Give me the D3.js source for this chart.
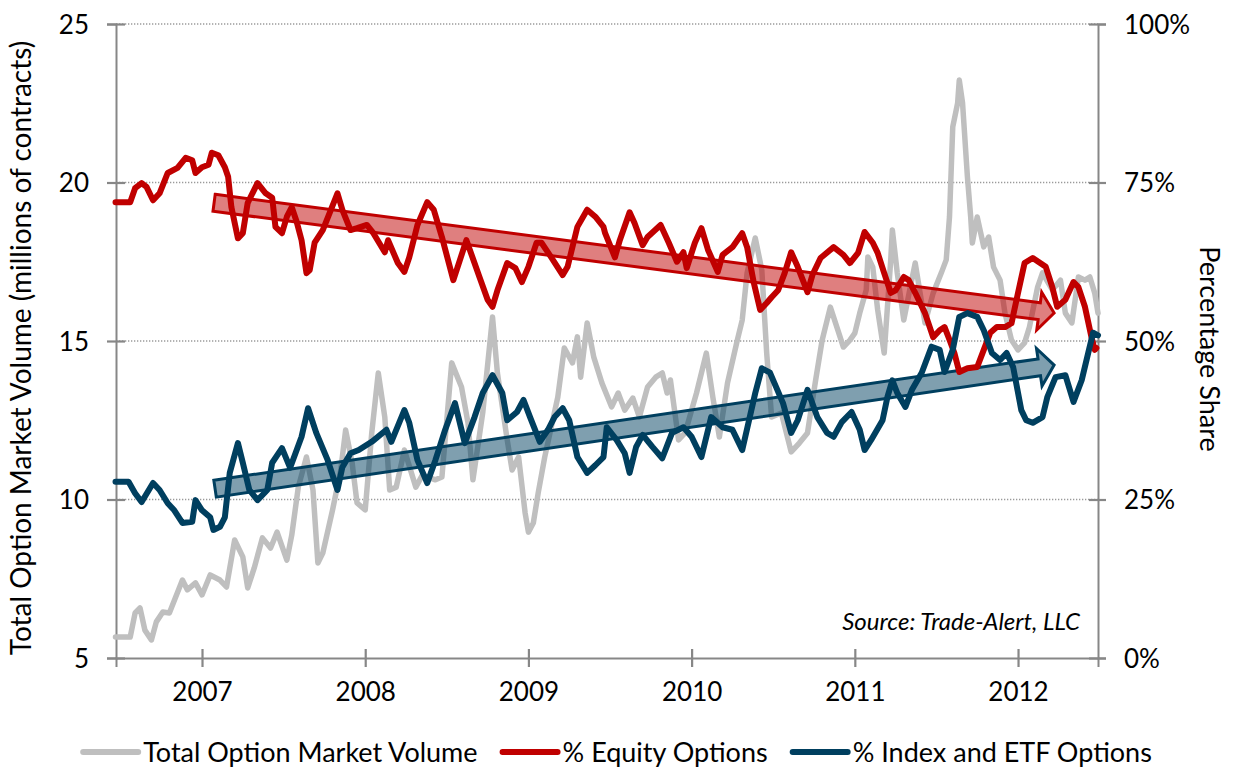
<!DOCTYPE html>
<html>
<head>
<meta charset="utf-8">
<script src="https://d3js.org/d3.v7.min.js"></script>
<style>
  body { margin: 0; background: #fff; }
  text { font-family: Lato, "Open Sans", sans-serif; fill: #000; }
</style>
</head>
<body>
<svg id="chart" width="1233" height="775"></svg>
<script>

// [decimal year, value]
const volume = [[2006.47,5.66],[2006.56,5.66],[2006.59,6.42],[2006.62,6.58],[2006.65,5.88],[2006.69,5.57],[2006.72,6.14],[2006.76,6.45],[2006.80,6.42],[2006.88,7.46],[2006.91,7.15],[2006.96,7.37],[2007.00,6.99],[2007.05,7.62],[2007.11,7.46],[2007.15,7.24],[2007.20,8.72],[2007.25,8.19],[2007.28,7.21],[2007.32,7.84],[2007.37,8.79],[2007.42,8.47],[2007.46,8.97],[2007.52,8.09],[2007.55,8.88],[2007.59,10.39],[2007.64,11.34],[2007.68,10.30],[2007.71,8.00],[2007.74,8.31],[2007.80,9.67],[2007.85,10.93],[2007.88,12.19],[2007.92,11.15],[2007.95,9.89],[2008.00,9.67],[2008.04,12.10],[2008.08,13.99],[2008.12,12.60],[2008.15,10.30],[2008.19,10.39],[2008.24,11.56],[2008.31,10.39],[2008.35,10.77],[2008.43,10.62],[2008.47,10.71],[2008.53,14.31],[2008.59,13.55],[2008.63,12.41],[2008.66,10.62],[2008.72,12.73],[2008.78,15.76],[2008.81,13.99],[2008.87,11.88],[2008.90,10.93],[2008.94,11.34],[2008.98,9.57],[2009.00,8.97],[2009.03,9.26],[2009.06,10.21],[2009.10,11.34],[2009.18,13.23],[2009.22,14.78],[2009.27,14.31],[2009.30,15.13],[2009.32,13.86],[2009.36,15.57],[2009.40,14.50],[2009.45,13.68],[2009.51,12.92],[2009.55,13.36],[2009.59,12.82],[2009.64,13.20],[2009.68,12.60],[2009.73,13.55],[2009.78,13.86],[2009.82,13.99],[2009.85,13.36],[2009.87,13.77],[2009.92,11.88],[2009.96,12.10],[2010.03,13.36],[2010.09,14.62],[2010.13,13.23],[2010.17,11.97],[2010.22,13.68],[2010.28,15.03],[2010.31,15.66],[2010.34,17.15],[2010.39,18.25],[2010.43,17.24],[2010.46,14.62],[2010.49,12.60],[2010.55,12.73],[2010.61,11.50],[2010.66,11.78],[2010.71,12.10],[2010.76,13.77],[2010.80,15.03],[2010.85,16.07],[2010.89,15.44],[2010.93,14.81],[2010.97,15.03],[2011.00,15.25],[2011.03,15.88],[2011.07,16.61],[2011.08,17.65],[2011.11,17.33],[2011.14,15.98],[2011.18,14.62],[2011.22,17.56],[2011.23,18.50],[2011.26,17.15],[2011.30,15.66],[2011.34,16.70],[2011.37,17.46],[2011.40,16.51],[2011.43,15.57],[2011.48,16.51],[2011.53,17.15],[2011.56,17.56],[2011.58,18.91],[2011.60,21.75],[2011.63,22.51],[2011.64,23.23],[2011.66,22.51],[2011.69,20.17],[2011.71,18.91],[2011.72,18.09],[2011.75,18.91],[2011.79,17.97],[2011.82,18.28],[2011.85,17.33],[2011.89,16.92],[2011.92,15.88],[2011.96,15.03],[2012.00,14.72],[2012.04,14.94],[2012.07,15.44],[2012.12,16.70],[2012.15,17.15],[2012.21,16.61],[2012.26,16.92],[2012.29,15.88],[2012.33,15.57],[2012.37,17.02],[2012.41,16.92],[2012.44,17.02],[2012.47,16.51],[2012.49,15.88]]

const equityPct = [[2006.47,71.9],[2006.56,71.9],[2006.59,74.1],[2006.63,74.9],[2006.66,74.3],[2006.70,72.2],[2006.74,73.3],[2006.79,76.5],[2006.85,77.3],[2006.90,78.9],[2006.94,78.5],[2006.96,76.5],[2007.00,77.4],[2007.04,77.8],[2007.06,79.7],[2007.10,79.3],[2007.14,77.4],[2007.16,75.9],[2007.18,71.1],[2007.22,66.2],[2007.25,67.0],[2007.28,71.8],[2007.34,74.9],[2007.39,73.3],[2007.43,72.6],[2007.45,68.0],[2007.49,67.0],[2007.52,69.6],[2007.55,71.1],[2007.58,68.8],[2007.61,65.9],[2007.64,60.7],[2007.66,61.2],[2007.69,65.5],[2007.74,67.5],[2007.83,73.3],[2007.86,70.7],[2007.91,67.5],[2007.95,67.8],[2008.01,68.3],[2008.05,67.0],[2008.12,64.0],[2008.14,65.9],[2008.20,62.3],[2008.24,60.9],[2008.27,63.2],[2008.32,68.3],[2008.38,71.9],[2008.42,70.7],[2008.47,66.4],[2008.54,59.6],[2008.62,65.9],[2008.70,60.1],[2008.75,56.5],[2008.78,55.4],[2008.81,58.0],[2008.87,62.3],[2008.92,61.5],[2008.96,59.3],[2009.00,61.7],[2009.05,65.5],[2009.08,65.5],[2009.14,63.2],[2009.21,60.4],[2009.24,61.7],[2009.30,68.0],[2009.36,70.7],[2009.41,69.6],[2009.46,68.0],[2009.47,67.0],[2009.53,63.2],[2009.56,65.9],[2009.62,70.3],[2009.65,68.6],[2009.70,65.1],[2009.73,66.4],[2009.81,68.3],[2009.86,65.5],[2009.91,62.5],[2009.95,64.0],[2009.97,61.5],[2010.02,65.5],[2010.06,67.8],[2010.10,64.4],[2010.16,60.9],[2010.19,63.6],[2010.25,64.8],[2010.31,67.0],[2010.34,64.8],[2010.38,59.3],[2010.42,54.9],[2010.46,56.0],[2010.49,56.9],[2010.53,58.0],[2010.57,60.7],[2010.61,64.0],[2010.65,61.7],[2010.71,57.7],[2010.74,60.4],[2010.79,63.1],[2010.87,64.8],[2010.93,63.6],[2010.97,62.3],[2011.02,63.9],[2011.06,67.2],[2011.11,65.5],[2011.14,63.9],[2011.18,60.7],[2011.22,57.6],[2011.25,58.0],[2011.30,60.1],[2011.33,59.6],[2011.37,57.6],[2011.43,54.4],[2011.48,50.6],[2011.52,51.7],[2011.55,52.2],[2011.58,50.2],[2011.61,48.1],[2011.64,45.1],[2011.69,45.7],[2011.75,45.9],[2011.79,48.6],[2011.83,51.3],[2011.87,52.2],[2011.92,52.2],[2011.96,52.8],[2012.00,57.6],[2012.04,62.3],[2012.09,63.1],[2012.17,61.7],[2012.21,58.5],[2012.24,55.4],[2012.29,56.5],[2012.34,59.3],[2012.37,58.5],[2012.41,55.4],[2012.45,50.6],[2012.47,48.6],[2012.48,48.9]]

const indexPct = [[2006.47,27.8],[2006.55,27.8],[2006.59,26.0],[2006.63,24.6],[2006.70,27.6],[2006.74,26.5],[2006.79,24.4],[2006.83,23.3],[2006.88,21.3],[2006.94,21.5],[2006.96,24.9],[2007.00,23.3],[2007.05,22.2],[2007.07,20.2],[2007.11,20.7],[2007.14,22.2],[2007.17,29.2],[2007.22,33.9],[2007.25,30.8],[2007.29,26.5],[2007.34,24.9],[2007.40,26.5],[2007.43,30.8],[2007.49,33.1],[2007.54,30.0],[2007.61,34.9],[2007.65,39.4],[2007.70,35.5],[2007.77,31.2],[2007.83,26.5],[2007.86,30.1],[2007.91,32.3],[2007.96,32.8],[2008.04,34.1],[2008.13,36.0],[2008.16,34.1],[2008.24,39.1],[2008.27,37.1],[2008.32,31.2],[2008.38,27.6],[2008.43,31.2],[2008.49,36.0],[2008.55,40.2],[2008.61,33.9],[2008.67,38.0],[2008.72,41.8],[2008.78,44.6],[2008.84,41.8],[2008.87,37.5],[2008.93,38.8],[2008.97,40.7],[2009.01,38.0],[2009.07,34.1],[2009.12,36.0],[2009.16,38.0],[2009.21,39.4],[2009.25,37.5],[2009.30,31.7],[2009.36,29.2],[2009.41,30.4],[2009.46,31.7],[2009.48,36.4],[2009.54,34.4],[2009.59,32.3],[2009.62,29.2],[2009.66,33.3],[2009.70,35.2],[2009.76,33.3],[2009.82,31.5],[2009.88,35.5],[2009.95,36.4],[2010.00,34.9],[2010.06,31.7],[2010.12,38.0],[2010.19,36.4],[2010.25,36.0],[2010.28,34.4],[2010.31,32.8],[2010.39,41.8],[2010.43,45.7],[2010.48,45.0],[2010.52,42.6],[2010.56,40.2],[2010.61,35.5],[2010.65,37.5],[2010.71,42.3],[2010.77,38.0],[2010.83,35.5],[2010.87,34.9],[2010.92,37.2],[2010.98,38.8],[2011.03,36.0],[2011.06,32.8],[2011.10,34.4],[2011.17,37.5],[2011.20,41.2],[2011.23,43.8],[2011.26,41.8],[2011.31,39.6],[2011.35,42.3],[2011.41,45.0],[2011.47,49.1],[2011.52,48.6],[2011.55,45.1],[2011.60,48.6],[2011.64,53.8],[2011.69,54.4],[2011.75,53.8],[2011.79,51.7],[2011.84,48.1],[2011.89,47.0],[2011.93,48.1],[2011.97,45.9],[2012.02,39.1],[2012.05,37.5],[2012.09,37.1],[2012.15,38.0],[2012.18,41.2],[2012.23,44.3],[2012.29,44.6],[2012.34,40.4],[2012.39,43.8],[2012.43,48.1],[2012.46,51.3],[2012.49,50.9]]

const yearTicks = [2007, 2008, 2009, 2010, 2011, 2012]
const volTicks = [5, 10, 15, 20, 25]
const pctTicks = [0, 25, 50, 75, 100]

// trend arrows: [year, percent] tail and tip
const equityArrow = [[2007.074, 71.8], [2012.221, 54.4]]
const indexArrow = [[2007.08, 26.7], [2012.221, 46.2]]

const seriesNames = ['Total Option Market Volume', '% Equity Options', '% Index and ETF Options']
const colors = ['#bfbfbf', '#c00000', '#003f5f']

const plotLeft = 116, plotRight = 1098, plotTop = 24, plotBottom = 658

const svg = d3.select('#chart')

const x = d3.scaleLinear().domain([2006.473, 2012.49]).range([plotLeft, plotRight])
const yVol = d3.scaleLinear().domain([5, 25]).range([plotBottom, plotTop])
const yPct = d3.scaleLinear().domain([0, 100]).range([plotBottom, plotTop])

const axisColor = '#878787'

// dotted grid
svg.append('g')
  .selectAll('line')
  .data(volTicks.slice(1))
  .join('line')
    .attr('x1', plotLeft).attr('x2', plotRight)
    .attr('y1', d => yVol(d)).attr('y2', d => yVol(d))
    .attr('stroke', '#9a9a9a')
    .attr('stroke-width', 1.3)
    .attr('stroke-dasharray', '1.3 1.7')

// axes
const leftAxis = svg.append('g')
  .attr('transform', `translate(${plotLeft},0)`)
  .call(d3.axisLeft(yVol).tickValues(volTicks).tickSize(9).tickPadding(18))
const rightAxis = svg.append('g')
  .attr('transform', `translate(${plotRight},0)`)
  .call(d3.axisRight(yPct).tickValues(pctTicks).tickSize(8).tickPadding(18).tickFormat(d => d + '%'))
const bottomAxis = svg.append('g')
  .attr('transform', `translate(0,${plotBottom})`)
  .call(d3.axisBottom(x).tickValues(yearTicks).tickSize(9).tickPadding(16).tickFormat(d3.format('d')))

;[leftAxis, rightAxis, bottomAxis].forEach(g => {
  g.select('.domain').attr('stroke', axisColor).attr('stroke-width', 2)
  g.selectAll('.tick line').attr('stroke', axisColor).attr('stroke-width', 2.2)
  g.selectAll('.tick text').attr('font-size', 26).attr('font-family', 'Lato, sans-serif').attr('fill', '#000')
})
// ticks cross the axis line
leftAxis.selectAll('.tick line').attr('x1', 9)
rightAxis.selectAll('.tick line').attr('x1', -9)
bottomAxis.selectAll('.tick line').attr('y1', -9)
rightAxis.selectAll('.tick text').attr('dy', '0.36em')
leftAxis.selectAll('.tick text').attr('dy', '0.36em')

// lines
const lineVol = d3.line().x(d => x(d[0])).y(d => yVol(d[1]))
const linePct = d3.line().x(d => x(d[0])).y(d => yPct(d[1]))

svg.append('path')
  .datum(volume)
  .attr('d', lineVol)
  .attr('fill', 'none')
  .attr('stroke', colors[0])
  .attr('stroke-width', 5.5)
  .attr('stroke-linejoin', 'round')
  .attr('stroke-linecap', 'round')

// block arrow built from tail and tip points
function arrowPath(a) {
  const p0 = [x(a[0][0]), yPct(a[0][1])]
  const p1 = [x(a[1][0]), yPct(a[1][1])]
  const len = Math.hypot(p1[0] - p0[0], p1[1] - p0[1])
  const u = [(p1[0] - p0[0]) / len, (p1[1] - p0[1]) / len]
  const n = [-u[1], u[0]]
  const w = 8.5, hw = 19, hl = 15
  const b = [p1[0] - u[0] * hl, p1[1] - u[1] * hl]
  const pt = (p, k) => [p[0] + n[0] * k, p[1] + n[1] * k]
  return d3.line()([pt(p0, -w), pt(b, -w), pt(b, -hw), p1, pt(b, hw), pt(b, w), pt(p0, w)]) + 'Z'
}

svg.append('g')
  .selectAll('path')
  .data([[equityArrow, colors[1]], [indexArrow, colors[2]]])
  .join('path')
    .attr('d', d => arrowPath(d[0]))
    .attr('fill', d => d[1])
    .attr('fill-opacity', 0.5)
    .attr('stroke', d => d[1])
    .attr('stroke-width', 3)
    .attr('stroke-linejoin', 'miter')

svg.append('g')
  .selectAll('path')
  .data([[equityPct, colors[1]], [indexPct, colors[2]]])
  .join('path')
    .attr('d', d => linePct(d[0]))
    .attr('fill', 'none')
    .attr('stroke', d => d[1])
    .attr('stroke-width', 6)
    .attr('stroke-linejoin', 'round')
    .attr('stroke-linecap', 'round')

// axis titles
svg.append('text')
  .attr('transform', `translate(31,${(plotTop + plotBottom) / 2 + 7}) rotate(-90)`)
  .attr('text-anchor', 'middle')
  .attr('font-size', 28)
  .text('Total Option Market Volume (millions of contracts)')

svg.append('text')
  .attr('transform', `translate(1200,349) rotate(90)`)
  .attr('text-anchor', 'middle')
  .attr('font-size', 27)
  .text('Percentage Share')

svg.append('text')
  .attr('x', 1080).attr('y', 630)
  .attr('text-anchor', 'end')
  .attr('font-size', 24)
  .attr('font-style', 'italic')
  .text('Source: Trade-Alert, LLC')

// legend
const legend = svg.append('g').attr('transform', 'translate(0,752)')
let cx = 0
const items = legend.selectAll('g')
  .data(seriesNames)
  .join('g')
items.append('line')
  .attr('x1', 0).attr('x2', 55)
  .attr('stroke', (d, i) => colors[i])
  .attr('stroke-width', 6)
  .attr('stroke-linecap', 'round')
items.append('text')
  .attr('x', 60).attr('dy', '0.36em')
  .attr('font-size', 27)
  .text(d => d)
items.each(function () {
  const w = this.getBBox().width
  d3.select(this).attr('transform', `translate(${cx},0)`)
  cx += w + 25
})
legend.attr('transform', `translate(${(1233 - (cx - 25)) / 2 + 1},752)`)

</script>
</body>
</html>
